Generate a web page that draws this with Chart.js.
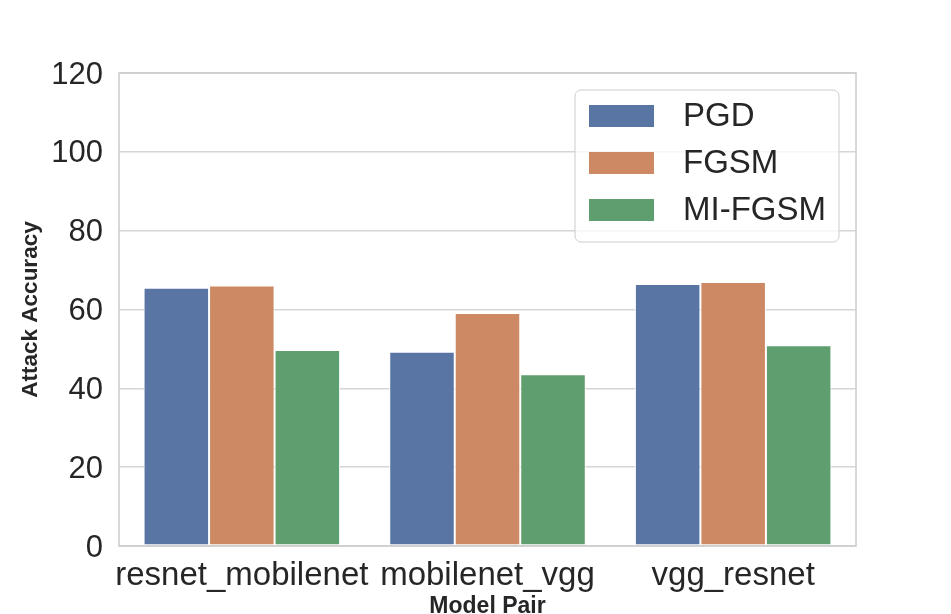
<!DOCTYPE html>
<html>
<head>
<meta charset="utf-8">
<script src="https://cdn.jsdelivr.net/npm/chart.js@4.4.1/dist/chart.umd.min.js"></script>
<style>
html,body{margin:0;padding:0;background:#fff;}
#wrap{width:951px;height:614px;position:relative;}
</style>
</head>
<body>
<div id="wrap"><canvas id="c" width="951" height="614"></canvas></div>
<script>
const categories = ["resnet_mobilenet", "mobilenet_vgg", "vgg_resnet"];
const seriesNames = ["PGD", "FGSM", "MI-FGSM"];
const pgd = [65.5, 49.3, 66.5];
const fgsm = [66.1, 59.1, 67.0];
const mifgsm = [49.7, 43.6, 50.9];
const seriesColors = ["#5975A4", "#CC8963", "#5F9E6E"];
const yTicks = [0, 20, 40, 60, 80, 100, 120];

const FONT = "'Liberation Sans', Arial, sans-serif";
const TXT = "#262626";

const frame = {
  id: 'frame',
  afterDatasetsDraw(chart) {
    const a = chart.chartArea, ctx = chart.ctx;
    ctx.save();
    ctx.strokeStyle = '#cccccc';
    ctx.lineWidth = 1.5;
    ctx.strokeRect(a.left, a.top, a.right - a.left, a.bottom - a.top);
    ctx.restore();
  },
  afterDraw(chart) {
    const ctx = chart.ctx;
    const bx = 575, by = 90, bw = 264, bh = 152, r = 6;
    ctx.save();
    ctx.beginPath();
    ctx.moveTo(bx + r, by);
    ctx.arcTo(bx + bw, by, bx + bw, by + bh, r);
    ctx.arcTo(bx + bw, by + bh, bx, by + bh, r);
    ctx.arcTo(bx, by + bh, bx, by, r);
    ctx.arcTo(bx, by, bx + bw, by, r);
    ctx.closePath();
    ctx.fillStyle = 'rgba(255,255,255,0.8)';
    ctx.fill();
    ctx.strokeStyle = '#cccccc';
    ctx.lineWidth = 1;
    ctx.stroke();
    ctx.font = '33px ' + FONT;
    ctx.textBaseline = 'middle';
    chart.data.datasets.forEach((ds, i) => {
      const cy = 116 + i * 47;
      ctx.fillStyle = ds.backgroundColor;
      ctx.fillRect(589, cy - 11, 65, 22);
      ctx.fillStyle = TXT;
      ctx.fillText(ds.label, 683, cy + 1);
    });
    ctx.restore();
  }
};

const values = [pgd, fgsm, mifgsm];
new Chart(document.getElementById('c'), {
  type: 'bar',
  data: {
    labels: categories,
    datasets: seriesNames.map((n, i) => ({
      label: n,
      data: values[i],
      backgroundColor: seriesColors[i],
      borderColor: '#ffffff',
      borderWidth: 1,
      borderSkipped: false
    }))
  },
  options: {
    responsive: false,
    animation: false,
    devicePixelRatio: 1,
    layout: { padding: { left: 0, right: 95, top: 73, bottom: 0 } },
    plugins: { legend: { display: false }, tooltip: { enabled: false } },
    datasets: { bar: { categoryPercentage: 0.8, barPercentage: 1.0 } },
    scales: {
      x: {
        grid: { display: false, drawTicks: false },
        border: { display: false },
        ticks: { color: TXT, font: { family: FONT, size: 33 }, padding: 10, maxRotation: 0, autoSkip: false },
        title: { display: true, text: 'Model Pair', color: TXT, font: { family: FONT, size: 23, weight: 'bold' }, padding: { top: 0, bottom: -6 } },
        afterFit(s) { s.height = 68; }
      },
      y: {
        min: 0, max: 120,
        afterBuildTicks(s) { s.ticks = yTicks.map(v => ({ value: v })); },
        grid: { color: '#d6d6d6', lineWidth: 1.5, drawTicks: false },
        border: { display: false },
        ticks: { color: TXT, font: { family: FONT, size: 31 }, padding: 16, labelOffset: 2 },
        title: { display: true, text: 'Attack Accuracy', color: TXT, font: { family: FONT, size: 22.5, weight: 'bold' }, padding: { top: 17, bottom: 0 } },
        afterFit(s) { s.width = 119; }
      }
    }
  },
  plugins: [frame]
});
</script>
</body>
</html>
